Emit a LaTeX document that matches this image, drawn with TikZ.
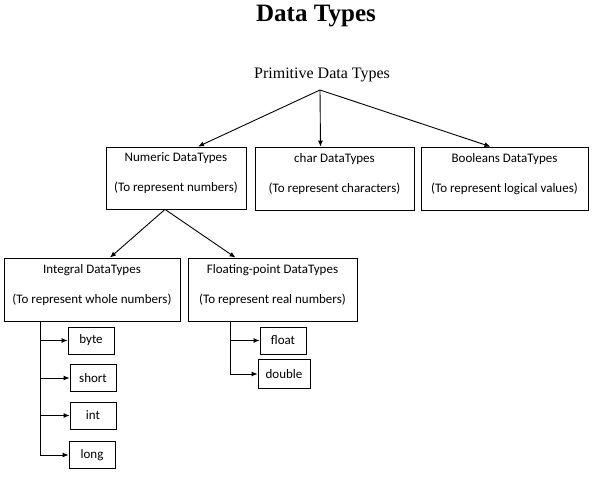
\documentclass[tikz,border=0pt]{standalone}
\usepackage{fontspec}
\setmainfont{Liberation Serif}
\newfontfamily\boxfont{Carlito}
\usepackage{xcolor}
\usetikzlibrary{positioning,arrows.meta,calc}

\begin{document}
\begin{tikzpicture}[x=1pt, y=-1pt, >={Latex[length=6pt,width=5pt]},
    every node/.style={align=center, inner sep=0pt},
    typebox/.style={draw, line width=0.8pt, text depth=11pt,
                    font=\boxfont\fontsize{13}{15}\selectfont},
    leafbox/.style={draw, line width=0.8pt, minimum width=46pt, minimum height=27pt,
                    font=\boxfont\fontsize{13}{15}\selectfont},
    link/.style={->, line width=0.9pt}]
  \useasboundingbox (0,0) rectangle (605,484);

  % title and root
  \node[font=\bfseries\fontsize{25}{30}\selectfont] (title) at (316,16) {Data Types};
  \node[font=\fontsize{16}{19}\selectfont] (prim) at (322,75) {Primitive Data Types};
  \coordinate (primtip) at (320,90);

  % first level
  \node[typebox, minimum width=140pt, minimum height=62pt] (numeric)
        at (176,178) {Numeric DataTypes\\[15pt](To represent numbers)};
  \node[typebox, minimum width=159pt, minimum height=63pt] (chr)
        at (334.5,178.5) {char DataTypes\\[15pt](To represent characters)};
  \node[typebox, minimum width=167pt, minimum height=63pt] (bool)
        at (504.5,178.5) {Booleans DataTypes\\[15pt](To represent logical values)};

  % second level
  \node[typebox, minimum width=176pt, minimum height=63pt] (intg)
        at (92,289.5) {Integral DataTypes\\[15pt](To represent whole numbers)};
  \node[typebox, minimum width=169pt, minimum height=63pt] (flt)
        at (272.5,289.5) {Floating-point DataTypes\\[15pt](To represent real numbers)};

  % leaves
  \node[leafbox] (byte)   at (91,340.5)  {byte};
  \node[leafbox] (short)  at (93,378)    {short};
  \node[leafbox] (int)    at (93,415.5)  {int};
  \node[leafbox] (long)   at (92,455)    {long};
  \node[leafbox] (float)  at (283,340.5) {float};
  \node[leafbox, minimum width=52pt, minimum height=29pt] (double) at (284,374) {double};

  \draw[link] (primtip) -- ([xshift=22pt]numeric.north);
  \draw[link] (primtip) -- ([xshift=-14pt]chr.north);
  \draw[link] (primtip) -- ([xshift=-14pt]bool.north);

  \draw[link] ([xshift=-11pt]numeric.south) -- ([xshift=18pt]intg.north);
  \draw[link] ([xshift=-11pt]numeric.south) -- ([xshift=-37pt]flt.north);

  \coordinate (itrunk) at (40,321);
  \draw[link] (itrunk) |- (long.west);
  \draw[link] (itrunk |- byte.west) -- (byte.west);
  \draw[link] (itrunk |- short.west) -- (short.west);
  \draw[link] (itrunk |- int.west) -- (int.west);

  \coordinate (ftrunk) at (230,321);
  \draw[link] (ftrunk) |- (double.west);
  \draw[link] (ftrunk |- float.west) -- (float.west);
\end{tikzpicture}
\end{document}
